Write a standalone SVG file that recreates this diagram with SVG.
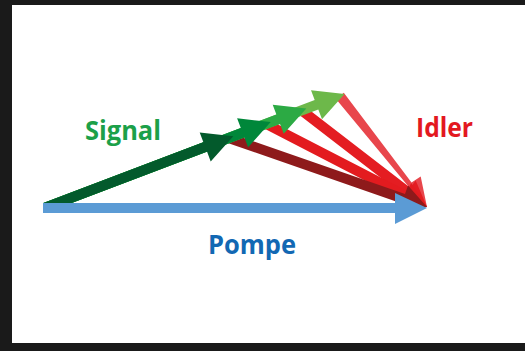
<svg xmlns="http://www.w3.org/2000/svg" width="525" height="351" viewBox="0 0 525 351">
  <style>
    .lbl { font-family: "Open Sans", "Liberation Sans", sans-serif; font-weight: 700; font-size: 26px; }
  </style>
  <rect x="0" y="0" width="525" height="351" fill="#1a1a1a"/>
  <rect x="12" y="5" width="513" height="338" fill="#ffffff"/>

  <g id="connectors">
    <g id="idler">
      <polygon fill="#e8464c" points="336.0,98.9 409.7,188.1 398.8,196.8 427,207 420.7,176.4 411.5,182.5 343.8,92.7"/>
      <polygon fill="#e41d22" points="298.4,114.3 404.1,195.7 398.7,202.8 427,207 415.7,180.6 410.3,187.7 304.6,106.3"/>
      <polygon fill="#e31b1f" points="263.7,128.2 402.5,199.9 398.4,207.9 427,207 411.2,183.1 407.1,191.1 268.3,119.4"/>
      <polygon fill="#8e1a1b" points="227.0,142.7 401.8,203.5 398.8,212.0 427,207 408.0,185.6 405.0,194.1 230.2,133.3"/>
    </g>
    <g id="signal">
      <polygon fill="#6db84a" points="43.4,203 314.7,100.0 311.0,90.2 344.6,94.1 322.0,119.2 318.3,109.4 71.6,203"/>
      <polygon fill="#2caa44" points="43.4,203 276.4,114.5 272.7,104.7 306.3,108.6 283.7,133.7 280.0,123.9 71.6,203"/>
      <polygon fill="#00873a" points="43.4,203 240.8,128.0 237.1,118.2 270.7,122.1 248.1,147.2 244.4,137.4 71.6,203"/>
      <polygon fill="#035a2c" points="43.4,203 203.4,142.2 199.7,132.4 233.3,136.3 210.7,161.4 207.0,151.6 71.6,203"/>
    </g>
    <g id="pump">
      <polygon fill="#5b9bd5" points="43,203 395,203 395,193 427,208 395,224 395,213 43,213"/>
    </g>
  </g>

  <g id="label-signal"><text class="lbl" x="85" y="140" fill="#1ca049" textLength="76" lengthAdjust="spacingAndGlyphs">Signal</text></g>
  <g id="label-idler"><text class="lbl" x="416" y="137" fill="#e3181f" textLength="57" lengthAdjust="spacingAndGlyphs">Idler</text></g>
  <g id="label-pompe"><text class="lbl" x="208" y="254" fill="#1268b3" textLength="88" lengthAdjust="spacingAndGlyphs">Pompe</text></g>
</svg>
